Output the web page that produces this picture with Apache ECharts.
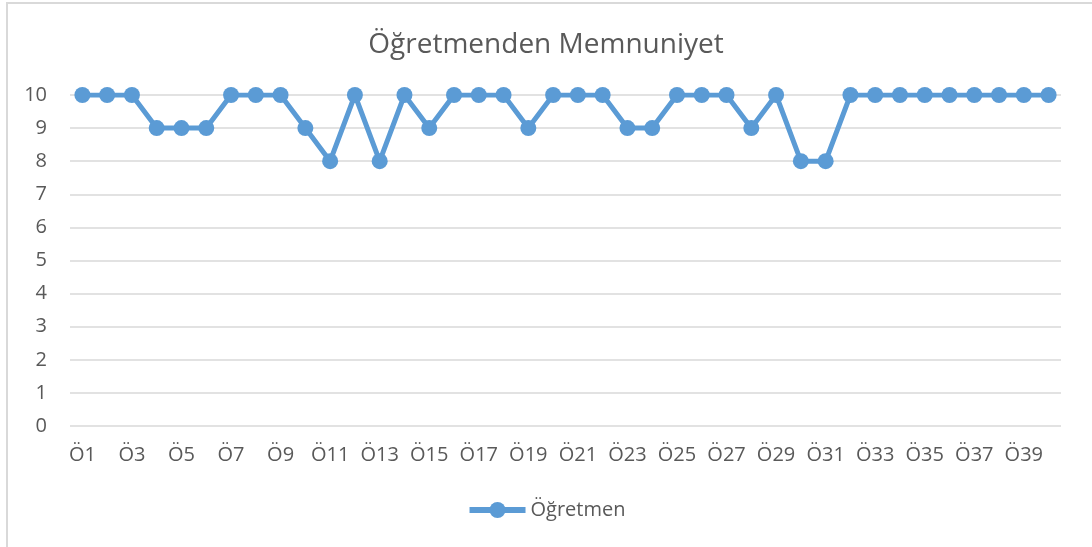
<!DOCTYPE html>
<html>
<head>
<meta charset="utf-8">
<script src="https://cdn.jsdelivr.net/npm/echarts@6/dist/echarts.min.js"></script>
<style>
html, body { margin: 0; padding: 0; background: #fff; }
.frame {
  position: absolute; left: 6px; top: 2px; width: 1086px; height: 545px;
  border-left: 2px solid #d9d9d9; border-top: 2px solid #d9d9d9;
  box-sizing: border-box;
}
#chart { position: absolute; left: 0; top: 0; width: 1092px; height: 547px; }
</style>
</head>
<body>
<div class="frame"></div>
<div id="chart"></div>
<script>
// ogrenci etiketleri Ö1..Ö40
const categories = [
  'Ö1','Ö2','Ö3','Ö4','Ö5','Ö6','Ö7','Ö8','Ö9','Ö10',
  'Ö11','Ö12','Ö13','Ö14','Ö15','Ö16','Ö17','Ö18','Ö19','Ö20',
  'Ö21','Ö22','Ö23','Ö24','Ö25','Ö26','Ö27','Ö28','Ö29','Ö30',
  'Ö31','Ö32','Ö33','Ö34','Ö35','Ö36','Ö37','Ö38','Ö39','Ö40'
]
const ogretmen = [
  10, 10, 10, 9, 9, 9, 10, 10, 10, 9,
  8, 10, 8, 10, 9, 10, 10, 10, 9, 10,
  10, 10, 9, 9, 10, 10, 10, 9, 10, 8,
  8, 10, 10, 10, 10, 10, 10, 10, 10, 10
]
const yTicks = [0, 1, 2, 3, 4, 5, 6, 7, 8, 9, 10]

const font = '"Open Sans", "Noto Sans", sans-serif'
const chart = echarts.init(document.getElementById('chart'))
chart.setOption({
  animation: false,
  title: {
    text: 'Öğretmenden Memnuniyet',
    left: 'center',
    top: 26,
    textStyle: { fontFamily: font, fontSize: 28, fontWeight: 'normal', color: '#595959' }
  },
  legend: {
    bottom: 22,
    left: 'center',
    itemWidth: 56,
    itemHeight: 20,
    itemGap: 4,
    lineStyle: { width: 6 },
    textStyle: { fontFamily: font, fontSize: 20, color: '#595959' },
    data: ['Öğretmen']
  },
  grid: { left: 70, right: 31, top: 95, bottom: 121 },
  xAxis: {
    type: 'category',
    data: categories,
    boundaryGap: true,
    axisLine: { show: false },
    axisTick: { show: false },
    axisLabel: { interval: 1, margin: 19, fontFamily: font, fontSize: 20, color: '#595959' }
  },
  yAxis: {
    type: 'value',
    min: yTicks[0],
    max: yTicks[yTicks.length - 1],
    interval: 1,
    axisLine: { show: false },
    axisTick: { show: false },
    splitLine: { lineStyle: { color: '#d9d9d9', width: 1.5 } },
    axisLabel: { margin: 23, fontFamily: font, fontSize: 20, color: '#595959' }
  },
  series: [
    {
      name: 'Öğretmen',
      type: 'line',
      data: ogretmen,
      symbol: 'circle',
      symbolSize: 16,
      lineStyle: { color: '#5b9bd5', width: 5 },
      itemStyle: { color: '#5b9bd5' }
    }
  ]
})
</script>
</body>
</html>
